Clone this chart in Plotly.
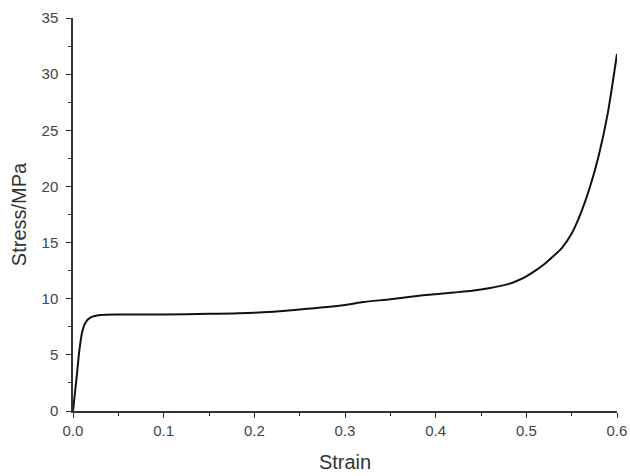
import plotly.graph_objects as go

strain = [0, 0.002, 0.004, 0.007, 0.01, 0.014, 0.02, 0.03, 0.05, 0.1, 0.15,
          0.2, 0.25, 0.3, 0.32, 0.35, 0.386, 0.42, 0.44, 0.46, 0.48, 0.49, 0.5, 0.51, 0.52,
          0.53, 0.54, 0.55, 0.56, 0.57, 0.58, 0.59, 0.6]
stress = [0, 1.5, 3.0, 5.4, 7.0, 7.9, 8.35, 8.55, 8.6, 8.6, 8.65,
          8.75, 9.05, 9.45, 9.7, 9.95, 10.3, 10.55, 10.7, 10.95, 11.3, 11.6, 12.0, 12.5, 13.1,
          13.8, 14.6, 15.8, 17.6, 19.9, 22.8, 26.6, 31.8]

x_ticks = [0.0, 0.1, 0.2, 0.3, 0.4, 0.5, 0.6]
x_labels = ["0.0", "0.1", "0.2", "0.3", "0.4", "0.5", "0.6"]
y_ticks = [0, 5, 10, 15, 20, 25, 30, 35]

fig = go.Figure()
fig.add_trace(go.Scatter(x=strain, y=stress, mode="lines",
                         line=dict(color="#111111", width=2, shape="spline", smoothing=0.6),
                         showlegend=False, hoverinfo="skip"))

axis_common = dict(showgrid=False, zeroline=False, showline=True, linecolor="#333333",
                   linewidth=1.5, ticks="outside", ticklen=5, tickwidth=1.2, automargin=False,
                   tickcolor="#333333", tickfont=dict(family="Liberation Sans, Arial", size=15, color="#444444"),
                   title_font=dict(family="Liberation Sans, Arial", size=20, color="#333333"))

fig.update_layout(
    width=630, height=476,
    margin=dict(l=73, r=13, t=18, b=65),
    paper_bgcolor="white", plot_bgcolor="white",
    xaxis=dict(range=[0, 0.6], tickvals=x_ticks, ticktext=x_labels,
               title=dict(text="Strain", standoff=17),
               minor=dict(dtick=0.05, ticks="outside", ticklen=3, tickcolor="#333333", tickwidth=1),
               **axis_common),
    yaxis=dict(range=[0, 35], tickvals=y_ticks, ticklabelstandoff=5,
               title=dict(text="Stress/MPa", standoff=10),
               minor=dict(dtick=2.5, ticks="outside", ticklen=3, tickcolor="#333333", tickwidth=1),
               **axis_common),
)

fig.write_html("out.html")
